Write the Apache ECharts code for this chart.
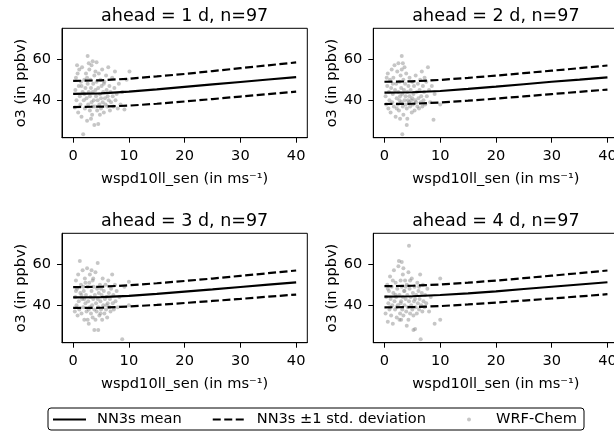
<!DOCTYPE html>
<html><head><meta charset="utf-8">
<script src="https://cdn.jsdelivr.net/npm/echarts@6/dist/echarts.min.js"></script>
<style>html,body{margin:0;padding:0;background:#fff}#c{width:614px;height:435px}</style>
</head><body><div id="c"></div>
<script>
// ---------- data ----------
const titles = ['ahead = 1 d, n=97', 'ahead = 2 d, n=97', 'ahead = 3 d, n=97', 'ahead = 4 d, n=97'];
const xName = 'wspd10ll_sen (in ms⁻¹)';
const yName = 'o3 (in ppbv)';
const xTicks = [0, 10, 20, 30, 40];
const yTicks = [40, 60];
const lineX = [0, 5, 10, 15, 20, 25, 30, 35, 40];

const mean1  = [43.1, 43.4, 44.2, 45.3, 46.5, 47.7, 48.9, 50.1, 51.3];
const upper1 = [49.4, 49.7, 50.5, 51.6, 52.8, 54.2, 55.6, 57.0, 58.4];
const lower1 = [36.7, 36.9, 37.4, 38.3, 39.4, 40.6, 41.8, 43.0, 44.2];

const mean2  = [43.7, 43.9, 44.5, 45.5, 46.6, 47.8, 49.0, 50.0, 51.1];
const upper2 = [49.0, 49.2, 49.9, 50.9, 52.0, 53.2, 54.4, 55.6, 56.9];
const lower2 = [38.2, 38.3, 38.9, 39.8, 40.8, 41.9, 43.0, 44.1, 45.2];

const mean3  = [43.8, 44.0, 44.6, 45.5, 46.6, 47.7, 48.9, 50.0, 51.1];
const upper3 = [48.8, 49.0, 49.7, 50.7, 51.8, 53.0, 54.3, 55.6, 56.9];
const lower3 = [38.7, 38.8, 39.4, 40.2, 41.1, 42.1, 43.1, 44.2, 45.2];

const mean4  = [44.2, 44.4, 45.0, 45.8, 46.8, 47.9, 49.0, 50.1, 51.2];
const upper4 = [49.3, 49.5, 50.1, 51.0, 52.0, 53.2, 54.4, 55.6, 56.9];
const lower4 = [39.0, 39.1, 39.6, 40.4, 41.3, 42.3, 43.3, 44.3, 45.4];

const wrf1 = [[0.3,36.5],[0.4,45],[0.5,51],[0.6,40],[0.8,53],[0.9,34],[1.0,47],[1.1,55],[1.2,42],[1.3,38],
[1.4,49],[1.5,32],[1.6,56],[1.7,44],[1.8,23.5],[1.9,40],[2.0,50],[2.1,36],[2.2,46],[2.3,53],
[2.4,41],[2.5,30],[2.6,61.5],[2.6,48],[2.7,38],[2.8,44],[2.9,55],[3.0,35],[3.0,42],[3.1,50],
[3.2,46],[3.3,39],[3.3,57],[3.4,33],[3.5,59],[3.5,44],[3.6,48],[3.7,40],[3.8,28],[3.8,52],
[3.9,37],[4.0,45],[4.1,42],[4.2,58.5],[4.2,49],[4.3,35],[4.4,40],[4.5,46],[4.5,28.5],[4.6,53],
[4.7,38],[4.8,43],[4.9,50],[5.0,41],[5.0,36],[5.1,47],[5.2,55],[5.3,39],[5.4,44],[5.5,34],
[5.6,49],[5.7,41],[5.8,38],[5.9,52],[6.0,45],[6.1,37],[6.2,42],[6.3,56],[6.4,40],[6.5,47],
[6.6,35],[6.7,44],[6.8,39],[7.0,51],[7.1,42],[7.2,37],[7.4,46],[7.5,54],[7.6,40],[7.8,43],
[8.0,36],[8.2,48],[8.5,38],[8.8,44],[9.2,35.5],[9.6,50],[10.1,54],[2.0,43],[2.5,51],[3.5,37],
[4.0,54],[1.5,47],[3.2,31],[4.8,33],[2.8,58],[5.5,48],[0.7,57]];

const wrf2 = [[0.2,42],[0.3,38],[0.5,47],[0.6,53],[0.7,36],[0.8,44],[0.9,40],[1.0,50],[1.1,34],[1.2,46],
[1.3,55],[1.4,39],[1.5,43],[1.6,51],[1.7,37],[1.8,57],[1.9,45],[2.0,32],[2.1,48],[2.2,41],
[2.3,54],[2.4,38],[2.5,58],[2.5,44],[2.6,35],[2.7,49],[2.8,42],[2.8,31],[2.9,52],[3.0,39],
[3.0,46],[3.1,61.5],[3.1,55],[3.2,23.5],[3.2,43],[3.3,37],[3.4,50],[3.4,33],[3.5,45],[3.6,40],
[3.6,56],[3.7,48],[3.8,38],[3.8,42],[3.9,53],[4.0,36],[4.0,28],[4.1,44],[4.2,40],[4.3,47],
[4.4,39],[4.5,51],[4.5,42],[4.6,37],[4.7,45],[4.8,40],[4.9,34],[5.0,49],[5.0,41],[5.1,38],
[5.2,43],[5.3,47],[5.4,35],[5.5,40],[5.6,52],[5.7,39],[5.8,44],[5.9,37],[6.0,48],[6.1,41],
[6.2,36],[6.3,45],[6.4,50],[6.5,39],[6.6,42],[6.7,54],[6.8,37],[6.9,47],[7.0,40],[7.1,44],
[7.2,51],[7.3,38],[7.5,49],[7.6,42],[7.8,56],[8.0,45],[8.2,39],[8.5,47],[8.8,30.5],[9.0,43],
[10.0,38],[1.5,48],[2.2,36],[2.7,40],[3.3,58],[4.1,31],[0.4,51]];

const wrf3 = [[0.3,37],[0.4,44],[0.5,52],[0.6,40],[0.7,48],[0.8,35],[0.9,55],[1.0,42],[1.1,38],[1.2,61.5],
[1.3,46],[1.4,50],[1.5,36],[1.6,43],[1.7,57],[1.8,39],[1.9,47],[2.0,33],[2.1,53],[2.2,41],
[2.3,45],[2.4,37],[2.5,58],[2.6,49],[2.7,42],[2.8,31],[2.9,51],[3.0,39],[3.0,55],[3.1,44],
[3.2,36],[3.3,47],[3.4,40],[3.5,52],[3.5,34],[3.6,43],[3.7,49],[3.8,28],[3.8,38],[3.9,45],
[4.0,56],[4.1,41],[4.2,37],[4.3,48],[4.4,60.5],[4.4,43],[4.5,28],[4.5,39],[4.6,46],[4.7,35],
[4.8,50],[4.9,42],[5.0,38],[5.1,45],[5.2,33],[5.3,53],[5.4,40],[5.5,47],[5.6,36],[5.7,43],
[5.8,50],[5.9,38],[6.0,44],[6.1,34],[6.2,41],[6.3,52],[6.4,46],[6.5,39],[6.6,43],[6.7,37],
[6.8,48],[7.0,55],[7.1,41],[7.2,45],[7.3,38],[7.5,50],[7.6,42],[7.8,47],[8.0,39],[8.3,44],
[8.8,23.5],[9.2,49],[10.0,51.5],[10.0,40],[1.5,45],[2.2,51],[2.8,38],[3.3,57],[4.0,33],[5.0,48],
[0.5,47],[1.8,49],[2.6,33],[3.6,53],[4.9,36],[6.0,40],[2.0,43]];

const wrf4 = [[0.2,36],[0.3,44],[0.5,50],[0.6,32],[0.7,41],[0.8,47],[0.9,38],[1.0,54],[1.1,43],[1.2,35],
[1.3,49],[1.4,40],[1.5,31],[1.6,46],[1.7,57],[1.8,42],[1.9,38],[2.0,51],[2.1,44],[2.2,34],
[2.3,48],[2.4,40],[2.5,59],[2.6,61.5],[2.7,45],[2.8,36],[2.9,52],[3.0,33],[3.0,42],[3.1,61],
[3.1,49],[3.2,38],[3.3,55],[3.3,44],[3.4,35],[3.5,47],[3.6,40],[3.7,52],[3.8,43],[3.9,37],
[4.0,50],[4.1,45],[4.2,39],[4.3,56],[4.4,69],[4.4,42],[4.5,48],[4.6,36],[4.7,44],[4.8,40],
[4.9,53],[5.0,38],[5.1,46],[5.2,28],[5.3,42],[5.4,49],[5.5,28.5],[5.6,39],[5.7,45],[5.8,36],
[5.9,51],[6.0,41],[6.1,47],[6.2,38],[6.3,43],[6.4,55],[6.5,23.5],[6.6,40],[6.7,46],[6.8,37],
[6.9,50],[7.0,42],[7.2,39],[7.3,45],[7.5,41],[7.7,48],[8.0,37],[8.3,44],[9.0,31],[10.0,33],
[10.0,53],[1.5,52],[2.2,39],[2.7,33],[3.4,58],[4.0,30],[4.6,52],[5.2,35],[1.0,39],[3.6,47],
[2.0,45],[2.9,41],[3.8,49],[4.3,33],[5.5,43],[6.2,49],[0.6,48]];

const means = [mean1, mean2, mean3, mean4];
const uppers = [upper1, upper2, upper3, upper4];
const lowers = [lower1, lower2, lower3, lower4];
const wrfs = [wrf1, wrf2, wrf3, wrf4];

// ---------- layout / style ----------
const FONT = 'DejaVu Sans';
const gridPos = [[62, 28.3], [373.3, 28.3], [62, 233.3], [373.3, 233.3]];
const GW = 245.3, GH = 109.4;
const FS = 14.6;
const txt = { color: '#000', fontSize: FS, fontFamily: FONT };

const pairs = arr => lineX.map((x, k) => [x, arr[k]]);

const option = {
  animation: false,
  backgroundColor: '#fff',
  title: titles.map((t, i) => ({
    text: t, left: gridPos[i][0] + GW / 2, top: gridPos[i][1] - 21, textAlign: 'center', padding: 0,
    textStyle: { color: '#000', fontSize: 17.5, fontWeight: 'normal', fontFamily: FONT }
  })),
  grid: gridPos.map(p => ({
    left: p[0], top: p[1], width: GW, height: GH, show: true, borderColor: '#000', borderWidth: 1,
    backgroundColor: 'transparent', containLabel: false, outerBoundsMode: 'none'
  })),
  xAxis: gridPos.map((p, i) => ({
    gridIndex: i, type: 'value', min: -2, max: 42,
    name: xName, nameLocation: 'middle', nameGap: 34, nameTextStyle: txt,
    axisLine: { show: true, onZero: false, lineStyle: { color: '#000', width: 1 } },
    axisTick: { show: true, length: 5, lineStyle: { color: '#000' }, customValues: xTicks },
    axisLabel: Object.assign({ margin: 11, customValues: xTicks }, txt),
    splitLine: { show: false }
  })),
  yAxis: gridPos.map((p, i) => ({
    gridIndex: i, type: 'value', min: 21.8, max: 75,
    name: yName, nameLocation: 'middle', nameGap: 33, nameRotate: 90, nameTextStyle: txt,
    axisLine: { show: true, onZero: false, lineStyle: { color: '#000', width: 1 } },
    axisTick: { show: true, length: 5, lineStyle: { color: '#000' }, customValues: yTicks },
    axisLabel: Object.assign({ margin: 11, customValues: yTicks }, txt),
    splitLine: { show: false }
  })),
  legend: [
    { left: 52, top: 412, padding: 0, itemWidth: 33, itemHeight: 14, itemGap: 30,
      data: ['NN3s mean', 'NN3s ±1 std. deviation'],
      itemStyle: { color: 'rgba(0,0,0,0)', borderColor: 'rgba(0,0,0,0)', borderWidth: 0, opacity: 0 },
      textStyle: Object.assign({ padding: [0, 0, 0, 6] }, txt) },
    { left: 467, top: 412, padding: 0, itemWidth: 4, itemHeight: 4,
      data: ['WRF-Chem'],
      textStyle: Object.assign({ padding: [0, 0, 0, 20] }, txt) }
  ],
  graphic: [{
    type: 'rect', shape: { x: 48, y: 408, width: 536, height: 22, r: 3 },
    style: { fill: 'none', stroke: '#000', lineWidth: 1 }, z: 100, silent: true
  }],
  series: []
};

for (let i = 0; i < 4; i++) {
  option.series.push({
    name: 'WRF-Chem', type: 'scatter', xAxisIndex: i, yAxisIndex: i,
    data: wrfs[i], symbolSize: 4,
    itemStyle: { color: '#808080', opacity: 0.45 }, z: 1
  });
  option.series.push({
    name: 'NN3s mean', type: 'line', xAxisIndex: i, yAxisIndex: i,
    data: pairs(means[i]), symbol: 'none', smooth: false,
    lineStyle: { color: '#000', width: 2.2 }, itemStyle: { color: '#000' }, z: 3
  });
  [uppers[i], lowers[i]].forEach(arr => option.series.push({
    name: 'NN3s ±1 std. deviation', type: 'line', xAxisIndex: i, yAxisIndex: i,
    data: pairs(arr), symbol: 'none', smooth: false,
    lineStyle: { color: '#000', width: 2.2, type: [8, 3.5] }, itemStyle: { color: '#000' }, z: 3
  }));
}

const chart = echarts.init(document.getElementById('c'), null, { renderer: 'canvas' });
chart.setOption(option);
</script></body></html>
